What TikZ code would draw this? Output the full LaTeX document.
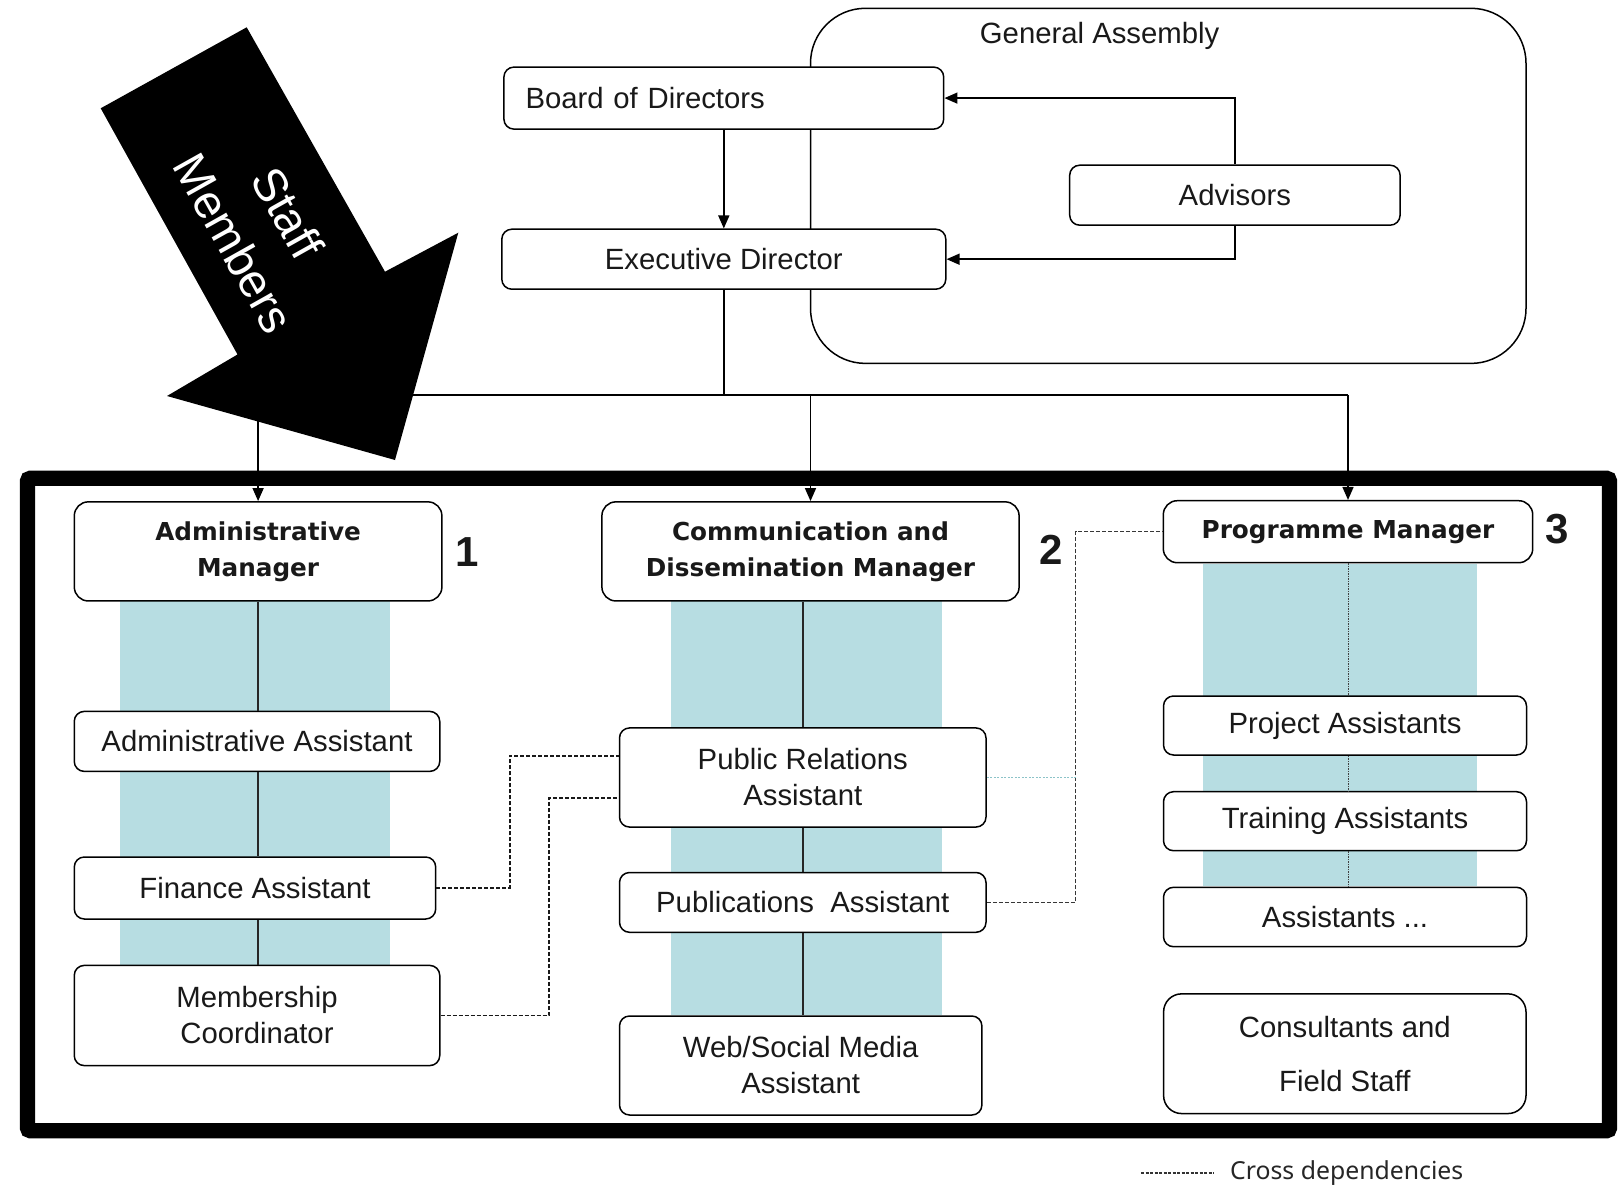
\documentclass[tikz,border=0pt]{standalone}
\usepackage{fontspec}
\setmainfont{Liberation Sans}
\newfontfamily\headfont{DejaVu Sans}
\newfontfamily\legendfont{Noto Sans}
\usetikzlibrary{arrows.meta}
\definecolor{bandteal}{RGB}{183,221,226}
\definecolor{inktext}{RGB}{25,25,25}
\definecolor{paleline}{RGB}{140,195,200}
\definecolor{crossgray}{RGB}{55,55,55}
\begin{document}
\begin{tikzpicture}[x=1pt, y=-1pt,
  box/.style={draw=black, line width=1.5pt, fill=white, rounded corners=10pt,
    inner sep=0pt, align=center, text=inktext,
    font=\fontsize{29.3}{36}\selectfont},
  mgr/.style={box, rounded corners=14pt,
    font=\headfont\bfseries\fontsize{24.7}{36}\selectfont},
  band/.style={fill=bandteal, draw=none},
  conn/.style={line width=1.5pt, draw=black},
  arr/.style={conn, -{Triangle[length=13pt, width=11pt]}},
  colline/.style={line width=1.5pt, draw=black!85},
  dotline/.style={line width=1pt, draw=black!75, dash pattern=on 1.5pt off 1pt},
  cross/.style={line width=1.7pt, draw=black!90, dash pattern=on 4pt off 2pt},
  numlbl/.style={font=\bfseries\fontsize{42}{42}\selectfont, text=inktext, inner sep=0pt}
]
\useasboundingbox (0,0) rectangle (1619,1188);
\fill[white] (0,0) rectangle (1619,1188);

% General Assembly frame and the governance boxes inside it
\draw[line width=1.5pt, rounded corners=55pt] (810.5,8.3) rectangle (1526,363.4);
\node[text=inktext, font=\fontsize{29.3}{36}\selectfont] (ga) at (1099.6,36) {General Assembly};

\node[box, minimum width=439.8pt, minimum height=62pt, text width=396.6pt, align=left]
  (board) at (723.8,98.1) {Board of Directors};
\node[box, minimum width=444pt, minimum height=60pt] (exec) at (723.8,259.2) {Executive Director};
\node[box, minimum width=330.4pt, minimum height=60pt] (adv) at (1234.9,195.2) {Advisors};

\draw[arr] (board.south) -- (exec.north);
\draw[arr] (adv.north) |- (board.east);
\draw[arr] (adv.south) |- (exec.east);

% Teal column bands
\fill[band] (119.8,600.9) rectangle (390.3,965.4);
\fill[band] (671.1,600.9) rectangle (941.6,1015);
\fill[band] (1203.3,563.7) rectangle (1476.7,886);

% Department heads
\node[mgr, minimum width=367.6pt, minimum height=99.1pt] (adm) at (258.1,551.4) {Administrative\\Manager};
\node[mgr, minimum width=417.2pt, minimum height=99.1pt] (comm) at (810.5,551.4) {Communication and\\Dissemination Manager};
\node[mgr, minimum width=369.4pt, minimum height=62pt] (pm) at (1348,531.7) {Programme Manager};

\node[numlbl] (n1) at (466.7,552.4) {1};
\node[numlbl] (n2) at (1051,550.3) {2};
\node[numlbl] (n3) at (1556.7,528.6) {3};

% Staff boxes
\node[box, minimum width=365.5pt, minimum height=60pt] (aa) at (257,741.4) {Administrative Assistant};
\node[box, minimum width=361.4pt, minimum height=62pt] (fin) at (255,888) {Finance Assistant};
\node[box, minimum width=365.5pt, minimum height=100.2pt] (mem) at (257,1015.5) {Membership\\Coordinator};

\node[box, minimum width=366.5pt, minimum height=99.1pt] (pr) at (802.75,777.5) {Public Relations\\Assistant};
\node[box, minimum width=366.5pt, minimum height=59.8pt] (pub) at (802.75,902.4) {Publications\ \ Assistant};
\node[box, minimum width=362.4pt, minimum height=99pt] (web) at (800.7,1065.5) {Web/Social Media\\Assistant};

\node[box, minimum width=363pt, minimum height=59pt] (proj) at (1345,725.5) {Project Assistants};
\node[box, minimum width=363pt, minimum height=59pt] (train) at (1345,821.2) {Training Assistants};
\node[box, minimum width=363pt, minimum height=59.4pt] (asst) at (1345,917) {Assistants ...};
\node[box, rounded corners=18pt, minimum width=362.4pt, minimum height=119.7pt,
  font=\fontsize{29.3}{53.7}\selectfont] (cons) at (1344.8,1053.7) {Consultants and\\Field Staff};

% Reporting lines inside the columns
\draw[colline] (adm.south) -- (adm.south |- aa.north);
\draw[colline] (adm.south |- aa.south) -- (adm.south |- fin.north);
\draw[colline] (adm.south |- fin.south) -- (adm.south |- mem.north);

\draw[colline] (pr.north |- comm.south) -- (pr.north);
\draw[colline] (pr.south) -- (pub.north);
\draw[colline] (pub.south) -- (pub.south |- web.north);

\draw[dotline] (pm.south) -- (pm.south |- proj.north);
\draw[dotline] (pm.south |- proj.south) -- (pm.south |- train.north);
\draw[dotline] (pm.south |- train.south) -- (pm.south |- asst.north);

% Cross dependencies
\draw[cross] (fin.east) -- ++(73.3,0) |- ([yshift=21.7pt]pr.west);
\draw[cross] (mem.east) -- ++(108.5,0) |- ([yshift=-20.6pt]pr.west);
\draw[cross, draw=crossgray, line width=1.5pt] (pub.east) -- ++(88.8,0) |- (pm.west);
\draw[line width=1.2pt, draw=paleline, dash pattern=on 2pt off 1.5pt] (pr.east) -- ++(88.8,0);

% Staff frame
\draw[line width=15.3pt, rounded corners=3pt] (27.5,478.3) rectangle (1609.5,1130.7);

% Distribution from the Executive Director
\coordinate (bus) at (0,395);
\draw[conn] (exec.south) -- (exec.south |- bus);
\draw[conn] (adm.north |- bus) -- (pm.north |- bus);
\draw[arr] (adm.north |- bus) -- (adm.north);
\draw[arr] (comm.north |- bus) -- (comm.north);
\draw[arr] (pm.north |- bus) -- (pm.north);

% Staff Members arrow
\fill[black] (246.7,27.3) -- (385,271.7) -- (458.3,232.7) -- (395,460) -- (167,396)
  -- (237.5,354.5) -- (100.7,108.3) -- cycle;
\node[text=white, rotate=-60.7, align=center, font=\fontsize{47}{62}\selectfont]
  (staff) at (261,228) {Staff\\Members};

% Legend
\node[anchor=west, text=black!85, font=\legendfont\fontsize{24.8}{30}\selectfont]
  (legend) at (1226.6,1173) {Cross dependencies};
\coordinate (legstart) at (1141,1173);
\draw[line width=1.3pt, draw=black!80, dash pattern=on 3pt off 1.5pt]
  (legstart) -- ([xshift=-13pt]legend.west);
\end{tikzpicture}
\end{document}
